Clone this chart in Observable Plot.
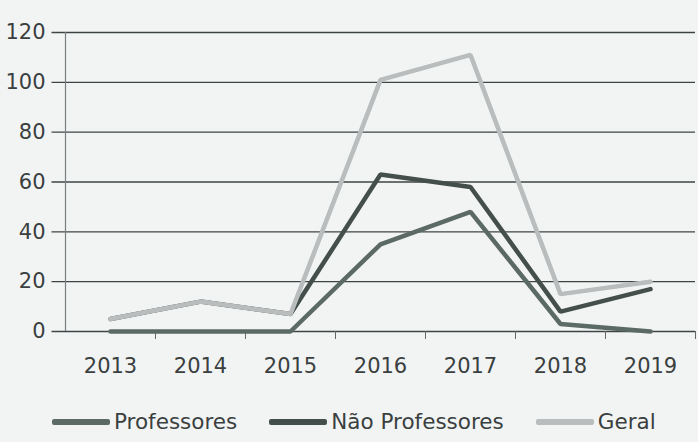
<!DOCTYPE html>
<html>
<head>
<meta charset="utf-8">
<script src="https://cdn.jsdelivr.net/npm/d3@7"></script>
<script src="https://cdn.jsdelivr.net/npm/@observablehq/plot@0.6"></script>
<style>
  html, body { margin: 0; padding: 0; background: #f2f4f4; }
  body { width: 698px; height: 442px; overflow: hidden; font-family: "DejaVu Sans", sans-serif; }
  #chart svg text { font-size: 21px !important; fill: #3a3f3f; font-family: "DejaVu Sans", sans-serif; }
  #legend { display: flex; align-items: center; height: 47px; padding-left: 52px; padding-top: 6px; box-sizing: border-box; font-size: 21.5px; color: #3a3f3f; white-space: nowrap; }
  .item { display: flex; align-items: center; margin-right: 32px; }
  .sw { width: 58px; height: 6px; margin-right: 4px; border-radius: 2px; }
</style>
</head>
<body>
<div id="chart"></div>
<div id="legend"></div>
<script>
const years = [2013, 2014, 2015, 2016, 2017, 2018, 2019];
const professores = [0, 0, 0, 35, 48, 3, 0];
const naoProfessores = [5, 12, 7, 63, 58, 8, 17];
const geral = [5, 12, 7, 101, 111, 15, 20];
const seriesNames = ["Professores", "Não Professores", "Geral"];
const seriesColors = ["#5c6a66", "#444f4c", "#b9bdbd"];
const yTicks = [0, 20, 40, 60, 80, 100, 120];
const boundaries = [2012.5, 2013.5, 2014.5, 2015.5, 2016.5, 2017.5, 2018.5, 2019.5];

const values = [professores, naoProfessores, geral];
const rows = [];
[0, 1, 2].forEach(si => {
  years.forEach((yr, i) => rows.push({series: seriesNames[si], year: yr, value: values[si][i]}));
});

const chart = Plot.plot({
  width: 698,
  height: 395,
  marginLeft: 65,
  marginRight: 3,
  marginTop: 32,
  marginBottom: 64,
  style: { background: "transparent", fontFamily: "'DejaVu Sans', sans-serif" },
  x: { domain: [2012.5, 2019.5], label: null },
  y: { domain: [0, 120], label: null },
  color: { domain: seriesNames, range: seriesColors },
  marks: [
    Plot.gridY(yTicks, { stroke: "#3e4444", strokeOpacity: 1, strokeWidth: 1.4, x1: 2012.35, x2: 2019.5 }),
    Plot.ruleX([2012.5], { y1: 0, y2: 120, stroke: "#7a7f7f", strokeWidth: 1.2 }),
    Plot.axisY(yTicks, { anchor: "left", tickSize: 0, tickPadding: 20, label: null }),
    Plot.axisX(boundaries.slice(1), { anchor: "bottom", tickSize: 8, tickFormat: () => "", stroke: "#666", label: null }),
    Plot.axisX(years, { anchor: "bottom", tickSize: 0, tickPadding: 27, tickFormat: d => String(d), label: null }),
    Plot.line(rows, { x: "year", y: "value", z: "series", stroke: "series", strokeWidth: 4.5, strokeLinejoin: "miter", strokeLinecap: "round" }),
    Plot.line(rows.filter(r => r.series === "Geral"), { x: "year", y: "value", stroke: "#b9bdbd", strokeWidth: 3.5, strokeLinejoin: "miter", strokeLinecap: "round" })
  ]
});
document.getElementById("chart").appendChild(chart);

const legend = document.getElementById("legend");
seriesNames.forEach((name, i) => {
  const item = document.createElement("div");
  item.className = "item";
  const sw = document.createElement("div");
  sw.className = "sw";
  sw.style.background = seriesColors[i];
  const label = document.createElement("span");
  label.textContent = name;
  item.appendChild(sw);
  item.appendChild(label);
  legend.appendChild(item);
});
</script>
</body>
</html>
